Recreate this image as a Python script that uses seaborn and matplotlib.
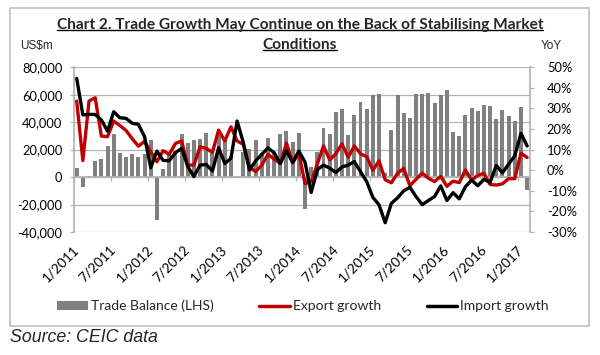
import numpy as np
import pandas as pd
import matplotlib
matplotlib.use("Agg")
import matplotlib.pyplot as plt
import seaborn as sns
from matplotlib.patches import Rectangle, Patch
from matplotlib.lines import Line2D
from matplotlib.ticker import FixedLocator, FuncFormatter

# ---------------- data ----------------
months = [f"{m}/{y}" for y in range(2011, 2018) for m in range(1, 13)][:74]

trade_balance = [
    6500, -7300, 1000, 11400, 13100, 22300, 31500, 17800, 14500, 17000, 14500, 16500,
    27300, -31500, 5600, 18400, 18700, 31700, 25100, 26700, 27700, 32000, 19600, 31600,
    29200, 15300, -900, 18200, 20400, 27100, 17800, 28500, 18000, 31100, 33800, 25600,
    31900, -23000, 7700, 18500, 35900, 31600, 47300, 49800, 31000, 45400, 54500, 49600,
    60000, 60600, 3100, 34100, 59500, 46500, 43000, 60200, 60300, 61600, 54100, 60100,
    63300, 32600, 29900, 45600, 50000, 48100, 52300, 52100, 42000, 49100, 44600, 40800,
    51400, -9100,
]

export_growth = [
    33.6, 4.7, 33.6, 35.2, 16.6, 16.3, 23.9, 21.7, 19.3, 15.3, 11.7, 14.0,
    9.0, 4.1, 9.5, 7.7, 13.0, 14.2, 2.5, 2.5, 11.4, 10.6, 8.7, 19.5,
    14.2, 21.1, 14.2, 12.6, 1.5, -0.7, 2.5, 7.7, 5.4, 3.3, 13.2, 3.5,
    8.6, -6.5, -5.6, 3.0, 11.8, 5.0, 8.0, 12.8, 6.3, 11.8, 8.0, 6.6,
    0.0, 4.5, -4.6, -6.1, -1.5, 0.9, -7.5, -4.4, -1.4, -3.9, -5.5, -3.0,
    -7.8, -5.3, -6.0, 0.1, -4.8, -2.5, -1.5, -6.9, -7.2, -6.6, -4.1, -4.1,
    8.3, 6.2,
]

import_growth = [
    44.6, 26.9, 27.1, 27.1, 24.4, 19.0, 28.4, 25.5, 25.2, 22.8, 22.3, 16.3,
    1.2, 9.3, 4.8, 4.6, 8.5, 10.6, 1.8, -3.1, 2.5, 2.8, -0.4, 10.9,
    3.3, 5.8, 23.9, 13.5, 0.1, 4.5, 7.7, 10.9, 8.5, 3.3, 9.4, 3.8,
    9.3, 4.0, -10.8, 0.2, 2.5, 1.0, -1.1, 1.6, 2.5, 4.2, -0.7, -5.5,
    -13.2, -16.8, -25.5, -16.1, -13.4, -10.0, -8.3, -12.8, -16.7, -14.7, -12.8, -7.6,
    -14.7, -10.9, -13.9, -8.0, -4.8, -7.5, -4.5, -5.8, 2.3, -1.2, 2.9, 7.0,
    17.9, 11.8,
]

tick_labels = ["1/2011", "7/2011", "1/2012", "7/2012", "1/2013", "7/2013", "1/2014",
               "7/2014", "1/2015", "7/2015", "1/2016", "7/2016", "1/2017"]

series_names = ["Trade Balance (LHS)", "Export growth", "Import growth"]
title_lines = ["Chart 2. Trade Growth May Continue on the Back of Stabilising Market",
               "Conditions"]

# ---------------- style ----------------
sns.set_theme(style="white")
plt.rcParams['font.family'] = ['Lato', 'DejaVu Sans']

GRID = "#B3B3B3"
BAR = "#808080"
RED = "#C00000"

df = pd.DataFrame({
    "month": months,
    "idx": np.arange(len(months)),
    "balance": trade_balance,
    "export": export_growth,
    "import": import_growth,
})

fig = plt.figure(figsize=(6, 3.55), dpi=100)
W, H = 600, 355
ax = fig.add_axes([73.6 / W, 1 - 232 / H, (530.2 - 73.6) / W, (232 - 67.3) / H])

sns.barplot(data=df, x="month", y="balance", order=months, color=BAR,
            saturation=1, width=0.64, linewidth=0, ax=ax, zorder=2)
ax.set_xlim(-0.5, len(months) - 0.5)
ax.set_ylim(-40000, 80000)
ax.set_yticks(np.arange(-40000, 80001, 20000))
ax.yaxis.set_major_formatter(FuncFormatter(lambda v, p: f"{int(v):,}"))
ax.set_axisbelow(True)
ax.yaxis.grid(True, color=GRID, lw=0.9)
ax.xaxis.grid(False)
ax.set_xlabel("")
ax.set_ylabel("")

# x axis: crosses at 0, labels low
ax.spines['bottom'].set_position(('data', 0))
ax.spines['bottom'].set_color(GRID)
ax.spines['left'].set_color(GRID)
ax.spines['top'].set_visible(False)
ax.spines['right'].set_visible(False)
label_pos = [months.index(t) for t in tick_labels]
ax.xaxis.set_major_locator(FixedLocator(label_pos))
ax.set_xticklabels(tick_labels, rotation=45, ha='right', va='center',
                   rotation_mode='anchor', fontsize=9.8)
ax.xaxis.set_minor_locator(FixedLocator(np.arange(-0.5, len(months), 6)))
ax.tick_params(axis='x', which='major', length=0, pad=51, colors='black')
ax.tick_params(axis='x', which='minor', length=3, width=0.9, color=GRID,
               direction='out', bottom=True)
ax.tick_params(axis='y', which='major', length=3, width=0.9, color=GRID,
               direction='out', left=True, pad=5, labelsize=9.3, labelcolor='black')

ax2 = ax.twinx()
sns.lineplot(data=df, x="idx", y="export", color=RED, lw=2.4, ax=ax2, zorder=3)
sns.lineplot(data=df, x="idx", y="import", color="black", lw=2.4, ax=ax2, zorder=4)
ax2.set_ylim(-30, 50)
ax2.set_yticks(np.arange(-30, 51, 10))
ax2.yaxis.set_major_formatter(FuncFormatter(lambda v, p: f"{int(v)}%"))
ax2.set_xlim(-0.5, len(months) - 0.5)
ax2.set_ylabel("")
ax2.set_xlabel("")
for s in ['left', 'top', 'bottom']:
    ax2.spines[s].set_visible(False)
ax2.spines['right'].set_color(GRID)
ax2.tick_params(axis='y', which='major', length=3, width=0.9, color=GRID,
                direction='out', right=True, pad=9, labelsize=9.3, labelcolor='black')
ax2.grid(False)

# ---------------- texts ----------------
fig.add_artist(Rectangle((10 / W, 1 - 326 / H), 579 / W, 318 / H,
                         transform=fig.transFigure, fill=False,
                         edgecolor="#BFBFBF", lw=1.2))

t1 = fig.text(0.5, 1 - 25 / H, title_lines[0], ha='center', va='center',
              fontsize=11.1, fontweight='bold')
t2 = fig.text(0.5, 1 - 45 / H, title_lines[1], ha='center', va='center',
              fontsize=11.1, fontweight='bold')
fig.text(20 / W, 1 - 46 / H, "US$m", ha='left', va='center', fontsize=8.5,
         family=['Liberation Sans', 'DejaVu Sans'])
fig.text(541 / W, 1 - 46 / H, "YoY", ha='left', va='center', fontsize=8.5,
         family=['Liberation Sans', 'DejaVu Sans'])
fig.text(10 / W, 1 - 337 / H, "Source: CEIC data", ha='left', va='center',
         fontsize=12.8, style='italic', family=['Liberation Sans', 'DejaVu Sans'])

fig.canvas.draw()
rend = fig.canvas.get_renderer()
for t in (t1, t2):
    bb = t.get_window_extent(renderer=rend)
    y = (bb.y0 + 1.8) / (H)
    fig.add_artist(Line2D([bb.x0 / W, bb.x1 / W], [y, y], transform=fig.transFigure,
                          color='black', lw=1.0))

handles = [Patch(facecolor=BAR, edgecolor='none'),
           Line2D([0], [0], color=RED, lw=2.5),
           Line2D([0], [0], color='black', lw=2.5)]
fig.legend(handles, series_names, loc='center', bbox_to_anchor=(0.505, 1 - 306 / H),
           ncol=3, frameon=False, fontsize=10, handlelength=2.2, handleheight=0.6,
           columnspacing=3.3, handletextpad=0.2)

fig.savefig("out.png", dpi=100)
